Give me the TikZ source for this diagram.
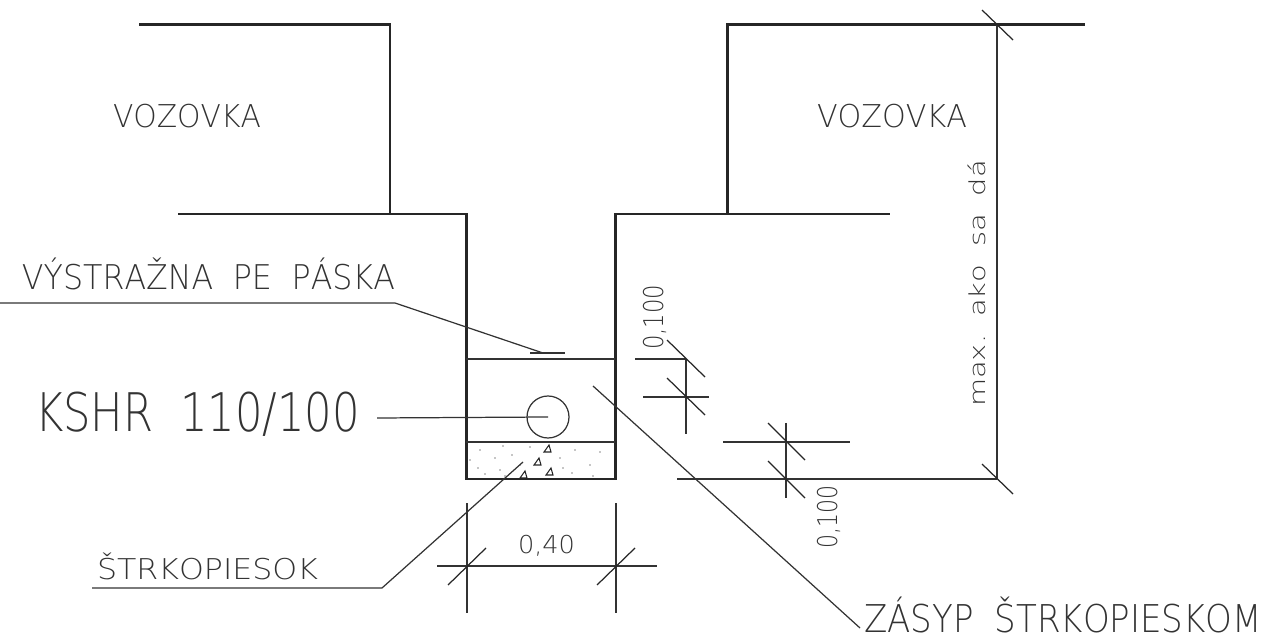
\documentclass[tikz,border=0pt]{standalone}
\usepackage{fontspec}
\usepackage{graphicx}
\newfontfamily\cadfont[Kerning=Off]{DejaVuSans-ExtraLight.ttf}
\newlength\pu
\setlength\pu{0.02cm}
\newcommand\fitw[2]{\resizebox{#1\pu}{\height}{#2}}
\newcommand\cadsize[1]{\cadfont\fontsize{#1}{#1}\selectfont}
\newcommand\wsp{\hspace{0.62em}}
\tikzset{
  outline/.style={line width=1.7pt, draw=black!85, line join=miter},
  thinl/.style={line width=0.7pt, draw=black!80},
  tick/.style={line width=0.7pt, draw=black!85},
  lbl/.style={inner sep=0pt, outer sep=0pt, anchor=base west, text=black!80},
  grit/.style={line width=0.6pt, draw=black!85},
  speck/.style={fill=black!45, draw=none}
}
\begin{document}
\begin{tikzpicture}[x=0.02cm,y=-0.02cm]
\useasboundingbox (0,0) rectangle (1267,641);
% ---- key points ----
\coordinate (tl1) at (139,25);  \coordinate (tl2) at (390,25);  \coordinate (tl3) at (390,214);
\coordinate (gl) at (178,214);  \coordinate (twl) at (466,214); \coordinate (tbl) at (466,479);
\coordinate (tbr) at (615,479); \coordinate (twr) at (615,214); \coordinate (gr) at (890,214);
\coordinate (rr1) at (727,214); \coordinate (rr2) at (727,25);  \coordinate (rr3) at (1085,25);
% ---- outlines ----
\draw[outline] (tl1) -- (tl2) -- (tl3);
\draw[outline] (gl) -- (twl) -- (tbl) -- (tbr) -- (twr) -- (gr);
\draw[outline] (rr1) -- (rr2) -- (rr3);
% ---- trench interior ----
\coordinate (tape1) at (466,359); \coordinate (tape2) at (615,359);
\coordinate (grav1) at (466,442); \coordinate (grav2) at (615,442);
\draw[thinl] (tape1) -- (tape2);
\draw[thinl] (grav1) -- (grav2);
\coordinate (pipe) at (548,417);
\draw[thinl] (pipe) circle [radius=21];
% gravel marks
\foreach \p in {(547,449),(537,462),(549,472),(523,475)}{
  \draw[grit] \p ++(-3,3) -- ++(7,0) -- ++(-2,-7) -- cycle;
}
\foreach \p in {(480,450),(495,458),(503,446),(512,455),(478,468),(485,474),(500,470),(530,447),(560,458),(575,450),(590,465),(600,452),(572,473),(593,476),(520,465),(563,468),(505,476),(470,460)}{
  \fill[speck] \p circle [radius=0.9];
}
% ---- leader: VYSTRAZNA ----
\coordinate (v0) at (0,303); \coordinate (v1) at (395,303); \coordinate (v2) at (543,353);
\coordinate (vs1) at (530,353); \coordinate (vs2) at (565,353);
\draw[thinl] (v0) -- (v1) -- (v2);
\draw[thinl] (vs1) -- (vs2);
\node[lbl, font=\cadsize{19.4pt}] (tvys) at (22,290) {\fitw{373}{VÝSTRAŽNA\wsp PE\wsp PÁSKA}};
% ---- leader: KSHR ----
\coordinate (k0) at (377,418);
\draw[thinl] (k0) -- (pipe);
\node[lbl, font=\cadsize{30.3pt}] (tkshr) at (35,432) {\fitw{325}{KSHR\wsp 110/100}};
% ---- leader: STRKOPIESOK ----
\coordinate (s0) at (92,588); \coordinate (s1) at (382,588); \coordinate (s2) at (523,462);
\draw[thinl] (s0) -- (s1) -- (s2);
\node[lbl, font=\cadsize{16.3pt}] (tstrk) at (97,579) {\fitw{221}{ŠTRKOPIESOK}};
% ---- leader: ZASYP ----
\coordinate (z0) at (593,386); \coordinate (z1) at (860,628);
\draw[thinl] (z0) -- (z1);
\node[lbl, font=\cadsize{21.8pt}] (tzas) at (864,632) {\fitw{398}{ZÁSYP\wsp ŠTRKOPIESKOM}};
% ---- VOZOVKA labels ----
\node[lbl, font=\cadsize{17.9pt}] (tvoz1) at (113,128) {\fitw{148}{VOZOVKA}};
\node[lbl, font=\cadsize{17.9pt}] (tvoz2) at (817,128) {\fitw{150}{VOZOVKA}};
% ---- dimension: max. ako sa da ----
\coordinate (m1) at (997,25); \coordinate (m2) at (997,479);
\coordinate (e1) at (677,479);
\draw[thinl] (m1) -- (m2);
\draw[thinl] (e1) -- (m2);
\draw[tick] (m1) ++(-15,-15) -- ++(31,30);
\draw[tick] (m2) ++(-15,-15) -- ++(31,30);
\node[lbl, rotate=90, font=\cadsize{12.5pt}] (tmax) at (985,407) {\fitw{247}{max.\wsp ako\wsp sa\wsp dá}};
% ---- dimension: upper 0,100 ----
\coordinate (ua) at (686,359); \coordinate (ub) at (686,397); \coordinate (uc) at (686,434);
\coordinate (ue1) at (635,359); \coordinate (ue2) at (643,397); \coordinate (ue3) at (709,397);
\draw[thinl] (ue1) -- (ua);
\draw[thinl] (ue2) -- (ue3);
\draw[thinl] (ua) -- (uc);
\draw[tick] (ua) ++(-19,-19) -- ++(38,37);
\draw[tick] (ub) ++(-19,-19) -- ++(38,37);
\node[lbl, rotate=90, font=\cadsize{15.5pt}] (tu100) at (663,350) {\fitw{65}{0,100}};
% ---- dimension: lower 0,100 ----
\coordinate (la) at (786,423); \coordinate (lb) at (786,442); \coordinate (lc) at (786,479); \coordinate (ld) at (786,498);
\coordinate (le1) at (723,442); \coordinate (le2) at (850,442);
\draw[thinl] (le1) -- (le2);
\draw[thinl] (la) -- (ld);
\draw[tick] (lb) ++(-18,-19) -- ++(37,37);
\draw[tick] (lc) ++(-18,-18) -- ++(37,37);
\node[lbl, rotate=90, font=\cadsize{15.5pt}] (tl100) at (837,548) {\fitw{63}{0,100}};
% ---- dimension: 0,40 ----
\coordinate (wa1) at (467,503); \coordinate (wa2) at (467,613);
\coordinate (wb1) at (616,503); \coordinate (wb2) at (616,613);
\coordinate (wd1) at (437,566); \coordinate (wd2) at (657,566);
\coordinate (wta) at (467,566); \coordinate (wtb) at (616,566);
\draw[thinl] (wa1) -- (wa2);
\draw[thinl] (wb1) -- (wb2);
\draw[thinl] (wd1) -- (wd2);
\draw[tick] (wta) ++(-19,19) -- ++(38,-37);
\draw[tick] (wtb) ++(-19,19) -- ++(38,-37);
\node[lbl, font=\cadsize{14pt}] (t040) at (518,553) {\fitw{57}{0,40}};
\end{tikzpicture}
\end{document}
